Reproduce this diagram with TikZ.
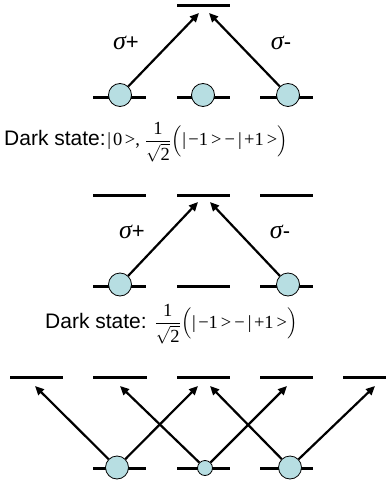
\documentclass[tikz,border=0pt]{standalone}
\usepackage{amsmath}
\usepackage{fontspec}
\setmainfont{Liberation Sans}
\newfontfamily\timesf{Liberation Serif}
\usetikzlibrary{arrows.meta}
\definecolor{atomfill}{RGB}{183,222,226}
\newcommand{\fracpart}{$\genfrac{}{}{0.6pt}{0}{\hbox{\timesf 1}\rule[-2.5pt]{0pt}{2pt}}{\rule{0pt}{15pt}\sqrt{\hbox{\timesf 2}}}\kern1pt\Bigl($|\kern2.5pt−1\kern3pt>\kern3pt−\kern3pt|\kern2.5pt+1\kern3pt>$\Bigr)$}
\newcommand{\darkA}{{\fontsize{21}{25}\selectfont Dark state:}\,{\timesf\fontsize{18.5}{20}\selectfont |\kern2pt0\kern2.5pt>,\kern5pt\fracpart}}
\newcommand{\darkB}{{\fontsize{21}{25}\selectfont Dark state:}\kern8pt{\timesf\fontsize{18.5}{20}\selectfont \fracpart}}
\begin{document}
\begin{tikzpicture}[x=1pt,y=-1pt,
  level/.style={line width=3pt},
  atom/.style={circle,draw=black,line width=0.8pt,fill=atomfill,minimum size=23pt,inner sep=0pt},
  smallatom/.style={atom,minimum size=15pt},
  trans/.style={line width=2.2pt,-{Triangle[length=9pt,width=8pt]}},
  lbl/.style={inner sep=0pt},
  txt/.style={inner sep=0pt,anchor=base west}]
\useasboundingbox (0,0) rectangle (386,481);
% ---------- diagram 1 ----------
\draw[level] (177,6) -- (230,6);
\draw[level] (93,97.5) -- (146,97.5);
\draw[level] (177,97.5) -- (230,97.5);
\draw[level] (260,97.5) -- (313,97.5);
\node[atom] (a1) at (120,95) {};
\node[atom] (a2) at (203,95) {};
\node[atom] (a3) at (288,95) {};
\coordinate (t1) at (199,13);
\coordinate (t2) at (209,13);
\draw[trans] (a1) -- (t1);
\draw[trans] (a3) -- (t2);
\node[lbl] (s1) at (126,43) {{\timesf\itshape\fontsize{26}{26}\selectfont σ}{\fontsize{22}{24}\selectfont +}};
\node[lbl] (s2) at (281,43) {{\timesf\itshape\fontsize{26}{26}\selectfont σ}{\fontsize{22}{24}\selectfont -}};
\node[txt] (d1) at (4,146) {\darkA};
% ---------- diagram 2 ----------
\draw[level] (93,195) -- (146,195);
\draw[level] (177,195) -- (230,195);
\draw[level] (260,195) -- (313,195);
\draw[level] (93,286) -- (146,286);
\draw[level] (177,286) -- (230,286);
\draw[level] (260,286) -- (313,286);
\node[atom] (b1) at (120,284.5) {};
\node[atom] (b3) at (288,284.5) {};
\coordinate (u1) at (198,202);
\coordinate (u2) at (210,202);
\draw[trans] (b1) -- (u1);
\draw[trans] (b3) -- (u2);
\node[lbl] (s3) at (132,232) {{\timesf\itshape\fontsize{26}{26}\selectfont σ}{\fontsize{22}{24}\selectfont +}};
\node[lbl] (s4) at (280,232) {{\timesf\itshape\fontsize{26}{26}\selectfont σ}{\fontsize{22}{24}\selectfont -}};
\node[txt] (d2) at (45,328) {\darkB};
% ---------- diagram 3 ----------
\draw[level] (10,377) -- (63,377);
\draw[level] (93,377) -- (147,377);
\draw[level] (177,377) -- (230,377);
\draw[level] (260,377) -- (313,377);
\draw[level] (343,377) -- (386,377);
\draw[level] (93,468) -- (146,468);
\draw[level] (177,468) -- (230,468);
\draw[level] (260,468) -- (313,468);
\node[atom] (c1) at (117,467.5) {};
\node[smallatom] (c2) at (205,468) {};
\node[atom] (c3) at (290,467.5) {};
\coordinate (v1) at (35,386);
\coordinate (v2) at (120,386);
\coordinate (v3) at (198,386);
\coordinate (v4) at (210,386);
\coordinate (v5) at (287,386);
\coordinate (v6) at (375,386);
\draw[trans] (c1) -- (v1);
\draw[trans] (c1) -- (v3);
\draw[trans] (c2) -- (v2);
\draw[trans] (c2) -- (v5);
\draw[trans] (c3) -- (v4);
\draw[trans] (c3) -- (v6);
\end{tikzpicture}
\end{document}
